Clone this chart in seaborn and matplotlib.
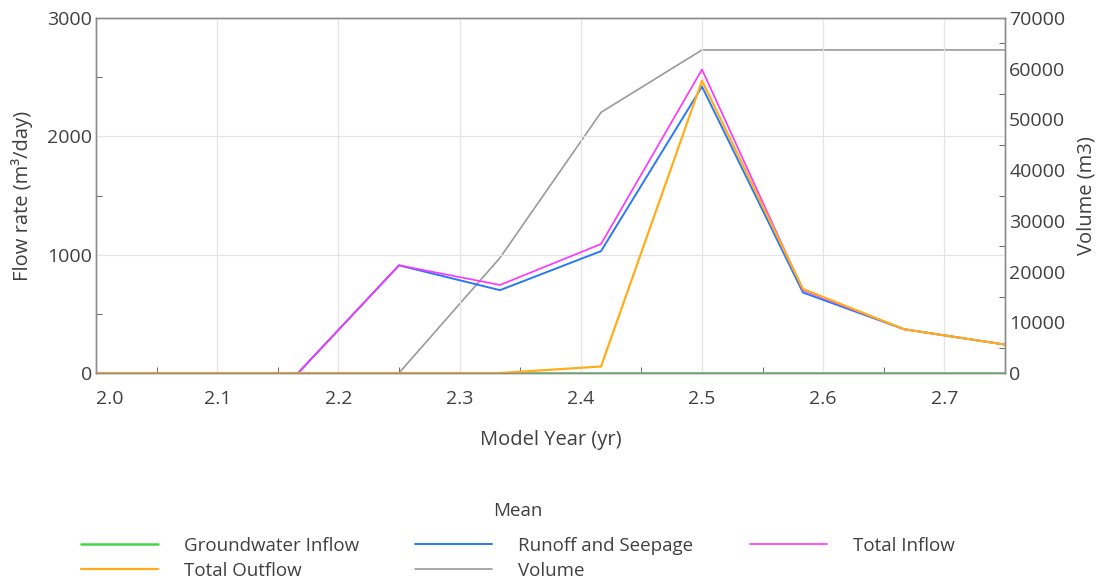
import numpy as np
import pandas as pd
import matplotlib
matplotlib.use("Agg")
import matplotlib.pyplot as plt
import seaborn as sns
from matplotlib.ticker import MultipleLocator

# ---- data ----
years = [2.0, 2.0833, 2.1667, 2.25, 2.3333, 2.4167, 2.5, 2.5833, 2.6667, 2.75]
groundwater_inflow = [0, 0, 0, 0, 0, 0, 0, 0, 0, 0]
runoff_seepage = [0, 0, 0, 910, 700, 1030, 2420, 680, 370, 240]
total_inflow = [0, 0, 0, 910, 744, 1090, 2565, 700, 370, 240]
total_outflow = [0, 0, 0, 0, 0, 55, 2470, 710, 370, 240]
volume_years = [2.25, 2.3333, 2.4167, 2.5, 2.5833, 2.6667, 2.75]
volume = [0, 22700, 51400, 63700, 63700, 63700, 63700]

xticks = [2.0, 2.1, 2.2, 2.3, 2.4, 2.5, 2.6, 2.7]
yticks_left = [0, 1000, 2000, 3000]
yticks_right = [0, 10000, 20000, 30000, 40000, 50000, 60000, 70000]

sns.set_style("white")
plt.rcParams['font.family'] = ['Open Sans', 'DejaVu Sans']

c_green = "#45d645"
c_blue = "#2a78f5"
c_magenta = "#ff33ff"
c_orange = "#ffae1a"
c_gray = "#9a9a9a"
tick_col = "#404040"

fig = plt.figure(figsize=(11.06, 5.8), dpi=100)
ax = fig.add_axes([96/1106, 1-373/580, (1005-96)/1106, (373-18)/580])
ax2 = ax.twinx()
ax.set_zorder(ax2.get_zorder() + 1)
ax.patch.set_visible(False)

df = pd.DataFrame({"year": years, "gw": groundwater_inflow, "ro": runoff_seepage,
                   "ti": total_inflow, "to": total_outflow})
dv = pd.DataFrame({"year": volume_years, "vol": volume})

sns.lineplot(data=df, x="year", y="gw", ax=ax, color=c_green, lw=1.8, label="Groundwater Inflow", legend=False)
sns.lineplot(data=df, x="year", y="ro", ax=ax, color=c_blue, lw=1.4, label="Runoff and Seepage", legend=False)
sns.lineplot(data=df, x="year", y="ti", ax=ax, color=c_magenta, lw=1.2, label="Total Inflow", legend=False)
sns.lineplot(data=df, x="year", y="to", ax=ax, color=c_orange, lw=1.6, label="Total Outflow", legend=False)
sns.lineplot(data=dv, x="year", y="vol", ax=ax2, color=c_gray, lw=1.2, label="Volume", legend=False)

ax.set_xlim(2.0, 2.75)
ax.set_ylim(0, 3000)
ax2.set_ylim(0, 70000)
ax.set_xticks(xticks)
ax.set_xticklabels([f"{t:.1f}" for t in xticks])
ax.get_xticklabels()[0].set_horizontalalignment("left")
ax.set_yticks(yticks_left)
ax2.set_yticks(yticks_right)
ax.xaxis.set_minor_locator(MultipleLocator(0.05))
ax.yaxis.set_minor_locator(MultipleLocator(500))
ax2.yaxis.set_minor_locator(MultipleLocator(5000))

ax.grid(True, which="major", color="#e4e4e4", lw=0.9)
ax.set_axisbelow(True)

for a in (ax, ax2):
    for s in a.spines.values():
        s.set_color("#8c8c8c")
        s.set_linewidth(1.0)
ax.tick_params(axis="y", which="major", length=0, labelsize=14, labelcolor=tick_col, pad=3)
ax.tick_params(axis="x", which="major", length=0, labelsize=14, labelcolor=tick_col, pad=12)
ax.tick_params(axis="x", which="minor", direction="in", length=4, color="#555555", bottom=True)
ax.tick_params(axis="y", which="minor", direction="in", length=4, color="#555555", left=True)
ax2.tick_params(axis="y", which="major", length=0, labelsize=14, labelcolor=tick_col, pad=3)
ax2.tick_params(axis="y", which="minor", direction="in", length=4, color="#555555", right=True)

ax.set_xlabel("Model Year (yr)", fontsize=14.5, color=tick_col, labelpad=16)
ax.set_ylabel("Flow rate (m³/day)", fontsize=14.5, color=tick_col, labelpad=10)
ax2.set_ylabel("Volume (m3)", fontsize=14.5, color=tick_col, labelpad=8)

h1, l1 = ax.get_legend_handles_labels()
h2, l2 = ax2.get_legend_handles_labels()
hd = dict(zip(l1 + l2, h1 + h2))
order = ["Groundwater Inflow", "Total Outflow", "Runoff and Seepage", "Volume", "Total Inflow"]
leg = fig.legend([hd[k] for k in order], order, ncol=3, loc="upper center",
                 bbox_to_anchor=(0.468, 1 - 485/580), frameon=False, title="Mean",
                 fontsize=13.5, title_fontsize=13.5, handlelength=4.1, handletextpad=1.4,
                 columnspacing=3.0, labelspacing=0.38)
for t in leg.get_texts():
    t.set_color(tick_col)
leg.get_title().set_color(tick_col)
leg._legend_box.sep = 12

fig.savefig("out.png", dpi=100)
